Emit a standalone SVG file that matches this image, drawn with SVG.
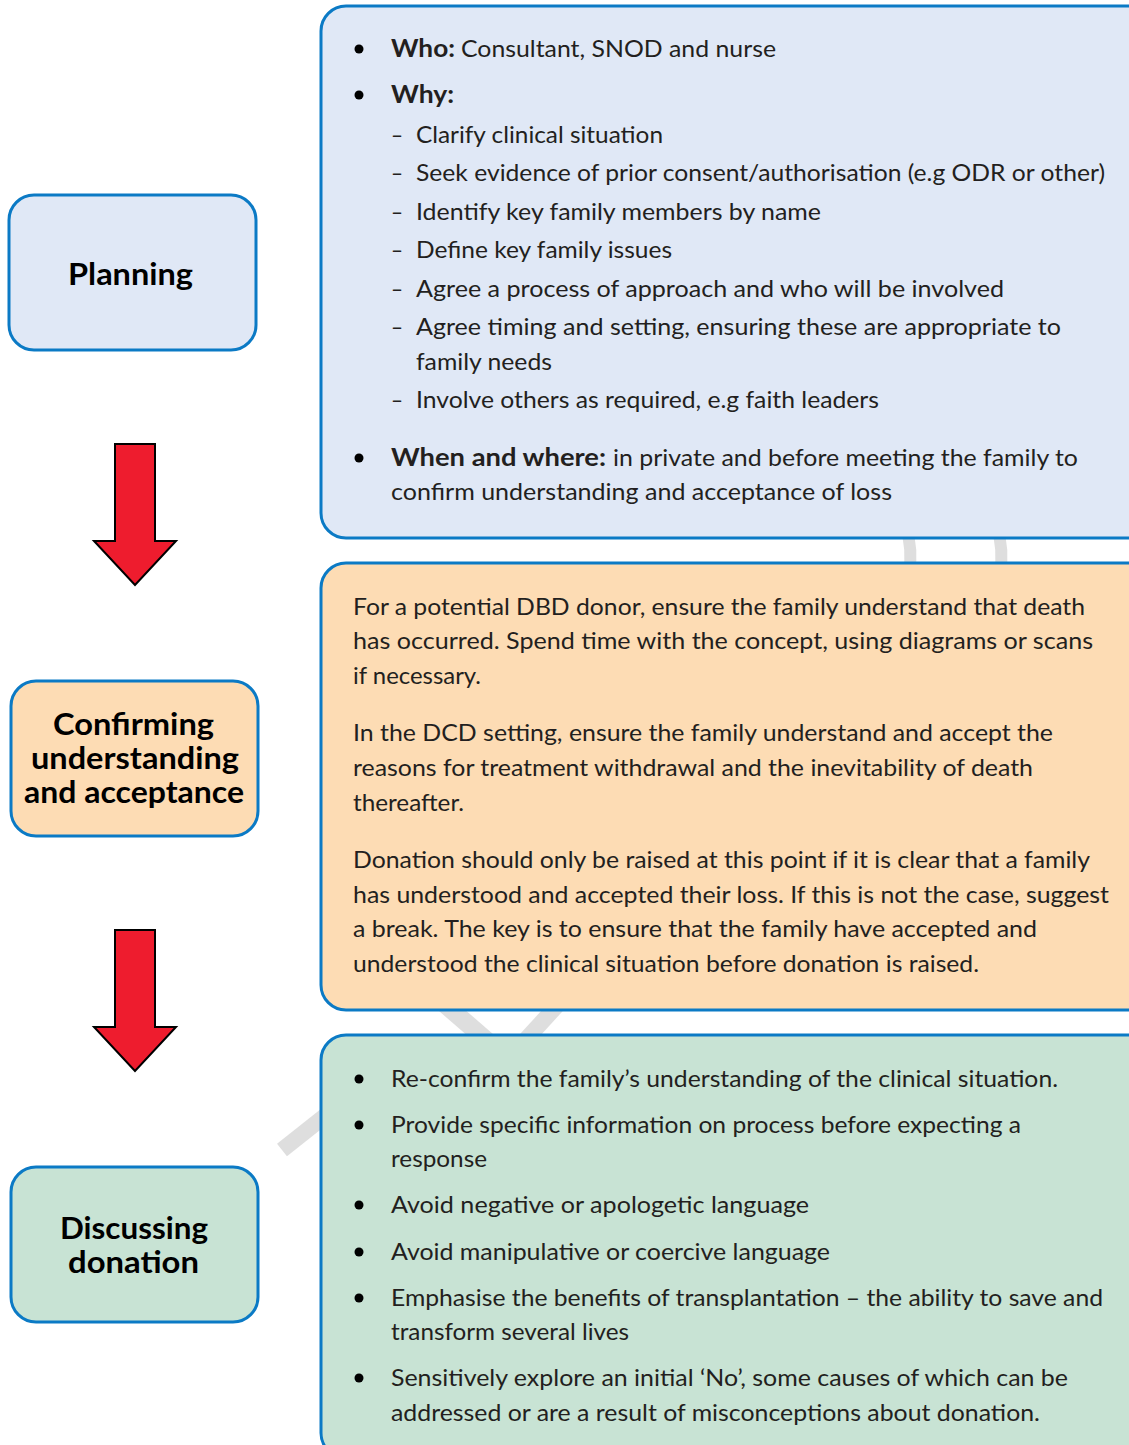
<svg xmlns="http://www.w3.org/2000/svg" width="1129" height="1445" viewBox="0 0 1129 1445">
<style>
.box{stroke:#0b7ac5;stroke-width:3}
.blue{fill:#e0e8f6}
.orange{fill:#fddcb4}
.green{fill:#c8e3d4}
.t{font-family:Lato,"Liberation Sans",sans-serif;font-size:24px;fill:#231f20}
.b{font-weight:bold}
.lbl{font-family:Lato,"Liberation Sans",sans-serif;font-size:30px;font-weight:bold;fill:#000}
.arrow{fill:#ee1c2e;stroke:#000;stroke-width:2}
.wm{stroke:#dedede;fill:none;stroke-linecap:butt}
.dot{fill:#000}
</style>
<rect width="1129" height="1445" fill="#ffffff"/>
<g id="watermark">
<path class="wm" d="M906 528 Q913 550 909 572" stroke-width="12"/>
<path class="wm" d="M997 528 Q1004 550 1000 572" stroke-width="12"/>
<path class="wm" d="M282 1150 L335 1108" stroke-width="16"/>
<path class="wm" d="M440 1000 L500 1052" stroke-width="18"/>
<path class="wm" d="M562 1000 L520 1046" stroke-width="16"/>
</g>
<g id="connectors">
<polygon class="arrow" points="115,444 155,444 155,541 176,541 135,585 94,541 115,541"/>
<polygon class="arrow" points="115,930 155,930 155,1027 176,1027 135,1071 94,1027 115,1027"/>
</g>
<g id="planning">
<rect class="box blue" x="9" y="195" width="247" height="155" rx="25"/>
<text class="lbl" x="68" y="285" textLength="125" lengthAdjust="spacingAndGlyphs">Planning</text>
</g>
<g id="confirming">
<rect class="box orange" x="11" y="681" width="247" height="155" rx="25"/>
<text class="lbl" x="53" y="735" textLength="161" lengthAdjust="spacingAndGlyphs">Confirming</text>
<text class="lbl" x="31" y="769" textLength="208" lengthAdjust="spacingAndGlyphs">understanding</text>
<text class="lbl" x="24" y="803" textLength="220" lengthAdjust="spacingAndGlyphs">and acceptance</text>
</g>
<g id="discussing">
<rect class="box green" x="11" y="1167" width="247" height="155" rx="25"/>
<text class="lbl" x="60" y="1239" textLength="148" lengthAdjust="spacingAndGlyphs">Discussing</text>
<text class="lbl" x="68" y="1273" textLength="131" lengthAdjust="spacingAndGlyphs">donation</text>
</g>
<g id="planning-detail">
<rect class="box blue" x="321" y="6" width="840" height="532" rx="25"/>
<circle class="dot" cx="359" cy="49" r="4.5"/>
<text class="t b" x="391" y="57" textLength="64" lengthAdjust="spacingAndGlyphs">Who:</text>
<text class="t" x="461" y="57" textLength="315" lengthAdjust="spacingAndGlyphs">Consultant, SNOD and nurse</text>
<circle class="dot" cx="359" cy="95" r="4.5"/>
<text class="t b" x="391" y="103" textLength="63" lengthAdjust="spacingAndGlyphs">Why:</text>
<text class="t" x="391" y="143" textLength="12" lengthAdjust="spacingAndGlyphs">–</text>
<text class="t" x="416" y="143" textLength="247" lengthAdjust="spacingAndGlyphs">Clarify clinical situation</text>
<text class="t" x="391" y="181" textLength="12" lengthAdjust="spacingAndGlyphs">–</text>
<text class="t" x="416" y="181" textLength="689" lengthAdjust="spacingAndGlyphs">Seek evidence of prior consent/authorisation (e.g ODR or other)</text>
<text class="t" x="391" y="220" textLength="12" lengthAdjust="spacingAndGlyphs">–</text>
<text class="t" x="416" y="220" textLength="405" lengthAdjust="spacingAndGlyphs">Identify key family members by name</text>
<text class="t" x="391" y="258" textLength="12" lengthAdjust="spacingAndGlyphs">–</text>
<text class="t" x="416" y="258" textLength="256" lengthAdjust="spacingAndGlyphs">Define key family issues</text>
<text class="t" x="391" y="297" textLength="12" lengthAdjust="spacingAndGlyphs">–</text>
<text class="t" x="416" y="297" textLength="588" lengthAdjust="spacingAndGlyphs">Agree a process of approach and who will be involved</text>
<text class="t" x="391" y="335" textLength="12" lengthAdjust="spacingAndGlyphs">–</text>
<text class="t" x="416" y="335" textLength="645" lengthAdjust="spacingAndGlyphs">Agree timing and setting, ensuring these are appropriate to</text>
<text class="t" x="416" y="370" textLength="136" lengthAdjust="spacingAndGlyphs">family needs</text>
<text class="t" x="391" y="408" textLength="12" lengthAdjust="spacingAndGlyphs">–</text>
<text class="t" x="416" y="408" textLength="463" lengthAdjust="spacingAndGlyphs">Involve others as required, e.g faith leaders</text>
<circle class="dot" cx="359" cy="458" r="4.5"/>
<text class="t b" x="391" y="466" textLength="215" lengthAdjust="spacingAndGlyphs">When and where:</text>
<text class="t" x="613" y="466" textLength="465" lengthAdjust="spacingAndGlyphs">in private and before meeting the family to</text>
<text class="t" x="391" y="500" textLength="501" lengthAdjust="spacingAndGlyphs">confirm understanding and acceptance of loss</text>
</g>
<g id="confirming-detail">
<rect class="box orange" x="321" y="563" width="840" height="447" rx="25"/>
<text class="t" x="353" y="615" textLength="732" lengthAdjust="spacingAndGlyphs">For a potential DBD donor, ensure the family understand that death</text>
<text class="t" x="353" y="649" textLength="740" lengthAdjust="spacingAndGlyphs">has occurred. Spend time with the concept, using diagrams or scans</text>
<text class="t" x="353" y="684" textLength="128" lengthAdjust="spacingAndGlyphs">if necessary.</text>
<text class="t" x="353" y="741" textLength="700" lengthAdjust="spacingAndGlyphs">In the DCD setting, ensure the family understand and accept the</text>
<text class="t" x="353" y="776" textLength="680" lengthAdjust="spacingAndGlyphs">reasons for treatment withdrawal and the inevitability of death</text>
<text class="t" x="353" y="811" textLength="111" lengthAdjust="spacingAndGlyphs">thereafter.</text>
<text class="t" x="353" y="868" textLength="737" lengthAdjust="spacingAndGlyphs">Donation should only be raised at this point if it is clear that a family</text>
<text class="t" x="353" y="903" textLength="756" lengthAdjust="spacingAndGlyphs">has understood and accepted their loss. If this is not the case, suggest</text>
<text class="t" x="353" y="937" textLength="684" lengthAdjust="spacingAndGlyphs">a break. The key is to ensure that the family have accepted and</text>
<text class="t" x="353" y="972" textLength="626" lengthAdjust="spacingAndGlyphs">understood the clinical situation before donation is raised.</text>
</g>
<g id="discussing-detail">
<rect class="box green" x="321" y="1035" width="840" height="423" rx="25"/>
<circle class="dot" cx="359" cy="1079" r="4.5"/>
<text class="t" x="391" y="1087" textLength="667" lengthAdjust="spacingAndGlyphs">Re-confirm the family’s understanding of the clinical situation.</text>
<circle class="dot" cx="359" cy="1125" r="4.5"/>
<text class="t" x="391" y="1133" textLength="630" lengthAdjust="spacingAndGlyphs">Provide specific information on process before expecting a</text>
<text class="t" x="391" y="1167" textLength="96" lengthAdjust="spacingAndGlyphs">response</text>
<circle class="dot" cx="359" cy="1205" r="4.5"/>
<text class="t" x="391" y="1213" textLength="418" lengthAdjust="spacingAndGlyphs">Avoid negative or apologetic language</text>
<circle class="dot" cx="359" cy="1252" r="4.5"/>
<text class="t" x="391" y="1260" textLength="439" lengthAdjust="spacingAndGlyphs">Avoid manipulative or coercive language</text>
<circle class="dot" cx="359" cy="1298" r="4.5"/>
<text class="t" x="391" y="1306" textLength="712" lengthAdjust="spacingAndGlyphs">Emphasise the benefits of transplantation – the ability to save and</text>
<text class="t" x="391" y="1340" textLength="238" lengthAdjust="spacingAndGlyphs">transform several lives</text>
<circle class="dot" cx="359" cy="1378" r="4.5"/>
<text class="t" x="391" y="1386" textLength="677" lengthAdjust="spacingAndGlyphs">Sensitively explore an initial ‘No’, some causes of which can be</text>
<text class="t" x="391" y="1421" textLength="649" lengthAdjust="spacingAndGlyphs">addressed or are a result of misconceptions about donation.</text>
</g>
</svg>
